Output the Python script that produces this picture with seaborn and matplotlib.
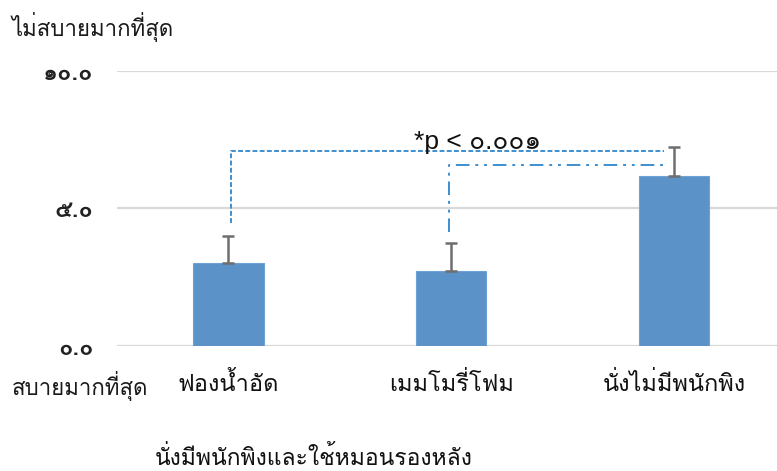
import matplotlib
matplotlib.use("Agg")
import matplotlib.pyplot as plt
import numpy as np
import pandas as pd
import seaborn as sns

# Comfort scores (0 = most comfortable, 10 = least comfortable)
categories = ["ฟองน้ำอัด", "เมมโมรี่โฟม", "นั่งไม่มีพนักพิง"]
means = [3.0, 2.73, 6.18]
sds = [1.0, 1.02, 1.03]
yticks = [0, 5, 10]
ytick_labels = ["๐.๐", "๕.๐", "๑๐.๐"]
top_label = "ไม่สบายมากที่สุด"
bottom_label = "สบายมากที่สุด"
x_title = "นั่งมีพนักพิงและใช้หมอนรองหลัง"
sig_text = "*p < ๐.๐๐๑"

sns.set_theme(style="white")
thai = ["Loma", "DejaVu Sans"]
plt.rcParams["font.family"] = thai

df = pd.DataFrame({"group": categories, "score": means})

fig = plt.figure(figsize=(7.77, 4.71), dpi=100)
ax = fig.add_axes([0.1506, 0.266, 0.8494, 0.5843])

bar_color = "#5b93c9"
sns.barplot(data=df, x="group", y="score", color=bar_color, width=0.314,
            errorbar=None, saturation=1, ax=ax, zorder=3,
            edgecolor="#6fa2d4", linewidth=0.8)

xpos = np.arange(len(categories))
ax.errorbar(xpos, means, yerr=[np.zeros(len(sds)), sds], fmt="none",
            ecolor="#6e6e6e", elinewidth=1.8, capsize=4, capthick=1.8, zorder=4)

ax.set_xlim(-0.5, 2.46)
ax.set_ylim(0, 10)
ax.set_yticks(yticks)
ax.set_yticklabels(ytick_labels, fontsize=17, fontweight="bold", color="#222222")
ax.tick_params(axis="y", length=0, pad=17)
ax.tick_params(axis="x", length=0, pad=19)
ax.set_xticks(xpos)
ax.set_xticklabels(categories, fontsize=17, color="#111111")
ax.set_xlabel("")
ax.set_ylabel("")
for y in yticks:
    ax.axhline(y, color="#d9d9d9", lw=1.6, zorder=1)
for s in ax.spines.values():
    s.set_visible(False)

# significance brackets
line_c = "#3d8fd1"
ax.plot([0.012, 0.012, 1.955], [4.45, 7.08, 7.08], color=line_c, lw=1.4,
        dashes=(2.5, 1.2), zorder=5)
ax.plot([0.99, 0.99, 1.95], [4.15, 6.55, 6.55], color=line_c, lw=1.4,
        dashes=(7, 3, 1.5, 3, 1.5, 3), zorder=5)
ax.text(0.834, 7.15, sig_text, ha="left", va="baseline", fontsize=19,
        family=["Liberation Sans", "Loma"], color="#111111", zorder=6)

fig.text(12 / 777, 1 - 27 / 471, top_label, fontsize=16, va="center", ha="left",
         color="#1a1a1a")
fig.text(12 / 777, 1 - 386 / 471, bottom_label, fontsize=16, va="center", ha="left",
         color="#1a1a1a")
fig.text(314 / 777, 1 - 458 / 471, x_title, fontsize=16.5, va="center", ha="center",
         color="#111111")

fig.savefig("out.png", dpi=100)
